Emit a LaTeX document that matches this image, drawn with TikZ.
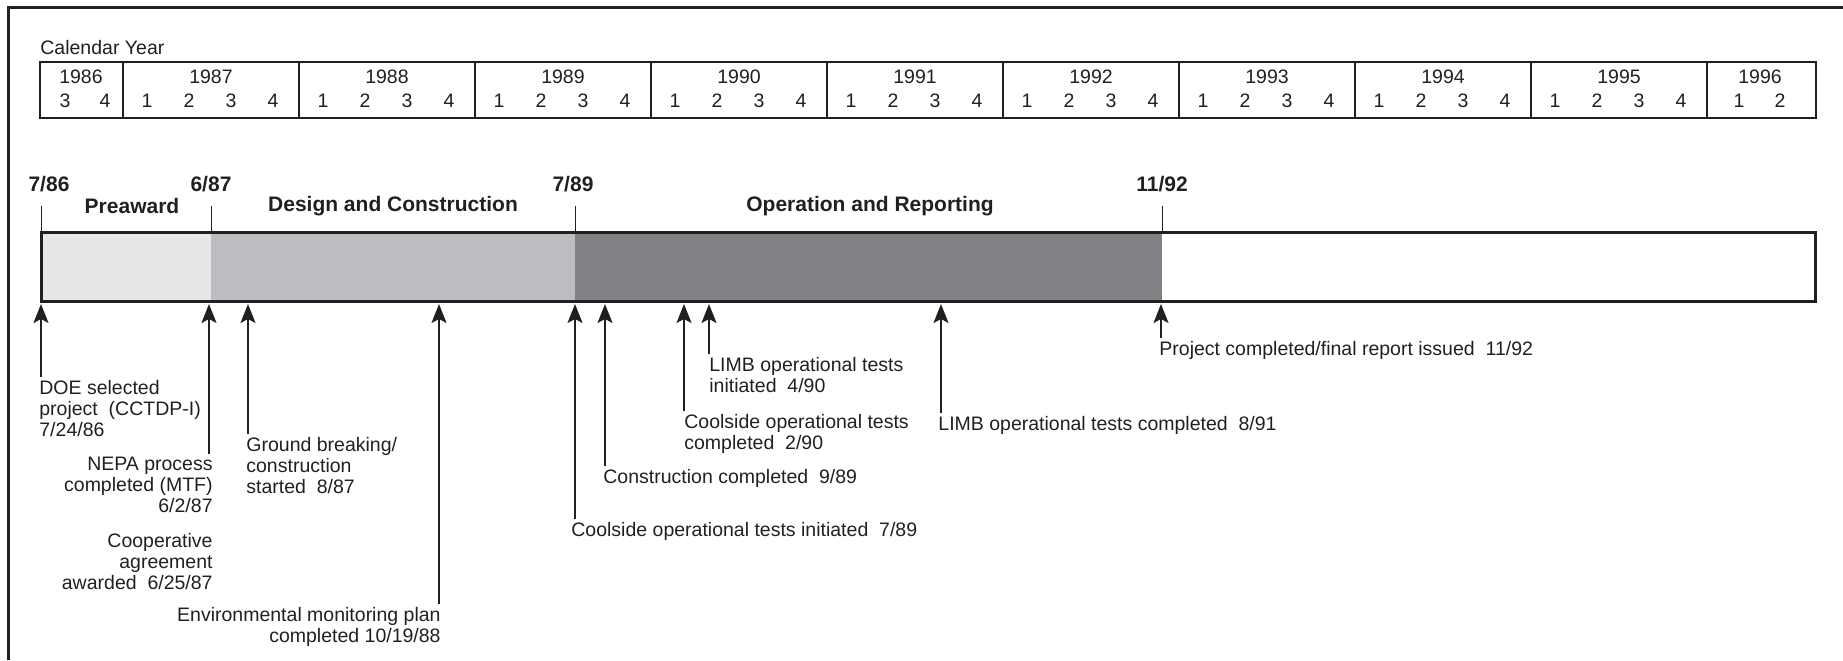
\documentclass[tikz,border=0pt]{standalone}
\usepackage{fontspec}
\setmainfont{Liberation Sans}
\usetikzlibrary{arrows.meta}
\definecolor{ink}{HTML}{231F20}
\definecolor{preaward}{HTML}{E6E7E8}
\definecolor{design}{HTML}{BCBDC0}
\definecolor{operation}{HTML}{808285}
\tikzstyle{note} = [inner sep=1.5pt, text=ink, align=left,
font=\fontsize{9.75}{10.5}\selectfont]
\tikzstyle{phase} = [inner sep=0pt, text=ink, font=\fontsize{10.5}{12}\selectfont\bfseries]
\tikzstyle{line} = [draw=ink, line width=0.65pt, -{Stealth[length=9.5pt,width=7.5pt,inset=2pt]}]
\tikzstyle{tick} = [draw=ink, line width=0.5pt]
\tikzstyle{grid} = [draw=ink, line width=0.7pt]

\begin{document}
\begin{tikzpicture}[x=0.5pt, y=-0.5pt]
\useasboundingbox (0,0) rectangle (1843,660);
\draw[ink, line width=1.5pt] (8,660) -- (8,7) -- (1843,7);

% calendar header
\node[note, anchor=west] (cal) at (37,48) {Calendar Year};
\draw[grid] (40,62) rectangle (1816,118);
\foreach \x in {123,299,...,1707}
  \draw[grid] (\x,62) -- (\x,118);
\node[note] (y1986) at (81,77) {1986};
\node[note] (q1986-3) at (65,101) {3};
\node[note] (q1986-4) at (105,101) {4};
\foreach \yr in {1987,...,1995} {
  \node[note] (y\yr) at ({211+176*(\yr-1987)},77) {\yr};
  \foreach \q in {1,...,4}
    \node[note] (q\yr-\q) at ({147+176*(\yr-1987)+42*(\q-1)},101) {\q};
}
\node[note] (y1996) at (1760,77) {1996};
\node[note] (q1996-1) at (1739,101) {1};
\node[note] (q1996-2) at (1780,101) {2};

% phases
\fill[preaward] (41,232) rectangle (211,301);
\fill[design] (211,232) rectangle (575,301);
\fill[operation] (575,232) rectangle (1162,301);
\draw[ink, line width=1.5pt] (41,232) rectangle (1815,301);

\node[phase] (d786) at (49,184) {7/86};
\node[phase] (d687) at (211,184) {6/87};
\node[phase] (d789) at (573,184) {7/89};
\node[phase] (d1192) at (1162,184) {11/92};
\node[phase] (preaward) at (132,206) {Preaward};
\node[phase] (design) at (393,206) {Design and Construction};
\node[phase] (operation) at (870,206) {Operation and Reporting};
\foreach \x in {41,211,575,1162}
  \draw[tick] (\x,206) -- (\x,232);

% milestones
\coordinate (e1) at (41,304);
\coordinate (e2) at (209,304);
\coordinate (e3) at (248,304);
\coordinate (e4) at (439,304);
\coordinate (e5) at (575,304);
\coordinate (e6) at (605,304);
\coordinate (e7) at (684,304);
\coordinate (e8) at (709,304);
\coordinate (e9) at (941,304);
\coordinate (e10) at (1161,304);

\node[note, anchor=north west] (doe) at (36,377) {DOE selected\\project~~(CCTDP-I)\\7/24/86};
\node[note, anchor=north east, align=right] (nepa) at (216,454) {NEPA process\\completed (MTF)\\6/2/87};
\node[note, anchor=north east, align=right] (coop) at (216,530) {Cooperative\\agreement\\awarded~~6/25/87};
\node[note, anchor=north west] (ground) at (243,434) {Ground breaking/\\construction\\started~~8/87};
\node[note, anchor=north east, align=right] (env) at (444,604) {Environmental monitoring plan\\completed 10/19/88};
\node[note, anchor=north west] (csinit) at (568,519) {Coolside operational tests initiated~~7/89};
\node[note, anchor=north west] (constr) at (600,466) {Construction completed~~9/89};
\node[note, anchor=north west] (cscomp) at (681,411) {Coolside operational tests\\completed~~2/90};
\node[note, anchor=north west] (limbinit) at (706,354) {LIMB operational tests\\initiated~~4/90};
\node[note, anchor=north west] (limbcomp) at (935,413) {LIMB operational tests completed~~8/91};
\node[note, anchor=north west] (proj) at (1156,338) {Project completed/final report issued~~11/92};

\path[line] (doe.north -| e1) -- (e1);
\path[line] (nepa.north -| e2) -- (e2);
\path[line] (ground.north -| e3) -- (e3);
\path[line] (env.north -| e4) -- (e4);
\path[line] (csinit.north -| e5) -- (e5);
\path[line] (constr.north -| e6) -- (e6);
\path[line] (cscomp.north -| e7) -- (e7);
\path[line] (limbinit.north -| e8) -- (e8);
\path[line] (limbcomp.north -| e9) -- (e9);
\path[line] (proj.north -| e10) -- (e10);
\end{tikzpicture}
\end{document}
